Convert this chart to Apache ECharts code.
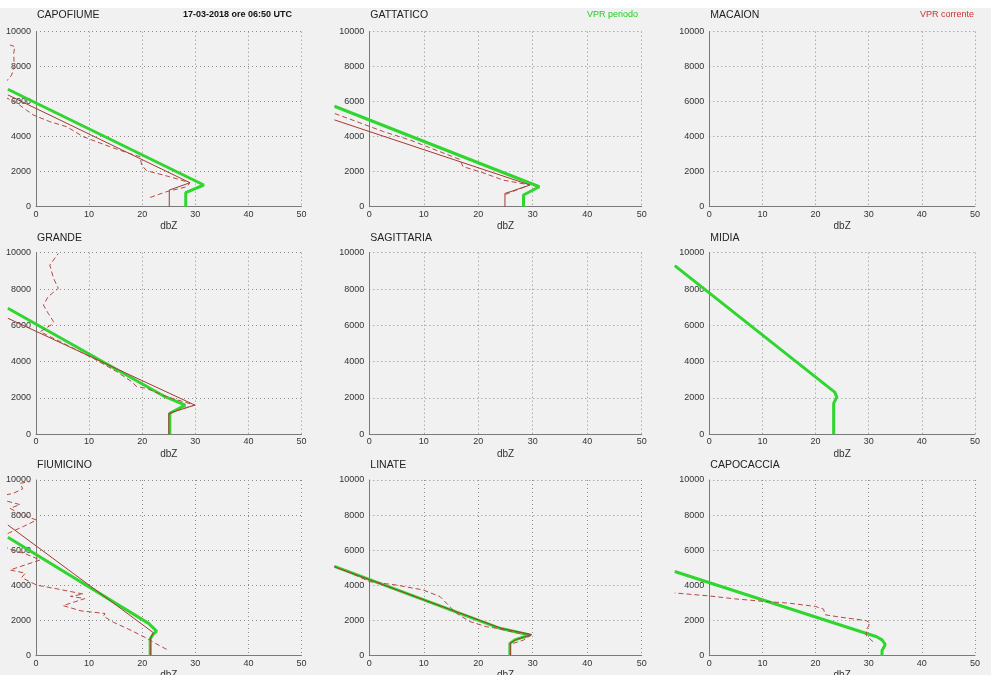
<!DOCTYPE html>
<html>
<head>
<meta charset="utf-8">
<script src="https://cdn.jsdelivr.net/npm/echarts@6/dist/echarts.min.js"></script>
<style>
  html, body { margin: 0; padding: 0; background: #f1f1f1; }
  #chart { width: 991px; height: 675px; }
</style>
</head>
<body>
<div id="chart"></div>
<script>
// Radar sites, in panel order (3 x 3)
const stations = ['CAPOFIUME', 'GATTATICO', 'MACAION', 'GRANDE', 'SAGITTARIA', 'MIDIA', 'FIUMICINO', 'LINATE', 'CAPOCACCIA'];

// Axis ranges and ticks
const dbzTicks = [0, 10, 20, 30, 40, 50];
const heightTicks = [0, 2000, 4000, 6000, 8000, 10000];

const headerDate = '17-03-2018 ore 06:50 UTC';
const legendPeriodo = 'VPR periodo';
const legendCorrente = 'VPR corrente';

// Profiles as [dBZ, height m]; "periodo" = period VPR, "fit" = fitted current VPR, "corrente" = current VPR
const capofiumePeriodo = [[28.2, 0], [28.2, 800], [31.6, 1240], [-5.3, 6710]];
const capofiumeFit = [[25.1, 0], [25.1, 950], [29.0, 1370], [-5.3, 6390]];
const capofiumeCorrente = [[21.5, 530], [24.6, 860], [28.4, 1140], [29.0, 1370], [25.2, 1710], [20.8, 2060], [19.9, 2380], [19.6, 2860], [17.5, 3050], [13.9, 3430], [8.9, 4000], [5.8, 4570], [2.6, 4860], [-0.5, 5240], [-1.8, 5520], [-3.5, 5900], [-8.0, 6600], [-5.2, 7280], [-4.6, 7520], [-4.1, 8000], [-4.2, 8760], [-4.0, 9150], [-4.9, 9240]];

const gattaticoPeriodo = [[28.3, 0], [28.3, 670], [31.2, 1140], [-6.4, 5740]];
const gattaticoFit = [[24.9, 0], [24.9, 760], [26.0, 870], [29.5, 1240], [-6.4, 4960]];
const gattaticoCorrente = [[25.0, 700], [27.0, 950], [29.5, 1240], [24.6, 1520], [20.3, 2000], [17.2, 2290], [16.6, 2700], [13.0, 3140], [7.5, 3810], [2.6, 4290], [-2.3, 4860], [-6.4, 5330]];

const grandePeriodo = [[25.2, 0], [25.2, 1160], [28.1, 1610], [24.3, 2070], [-5.3, 6940]];
const grandeFit = [[25.0, 0], [25.0, 1150], [29.9, 1610], [-5.3, 6390]];
const grandeCorrente = [[25.1, 1100], [25.9, 1250], [29.9, 1610], [24.6, 2070], [20.8, 2530], [19.0, 2620], [18.0, 2900], [15.2, 3450], [10.8, 4180], [5.8, 4920], [0.8, 5650], [3.0, 6050], [3.3, 6200], [2.3, 6660], [1.4, 7120], [2.3, 7580], [4.2, 8040], [3.3, 8590], [2.6, 9320], [4.2, 9960]];

const midiaPeriodo = [[23.4, 0], [23.4, 1700], [24.0, 2050], [23.6, 2320], [22.7, 2530], [-6.5, 9290]];

const fiumicinoPeriodo = [[21.5, 0], [21.5, 950], [22.0, 1200], [22.7, 1400], [21.2, 1840], [-5.3, 6740]];
const fiumicinoFit = [[21.6, 0], [21.6, 1000], [22.1, 1310], [-5.3, 7440]];
const fiumicinoCorrente = [[24.6, 360], [22.5, 700], [20.5, 1050], [17.5, 1500], [14.6, 1900], [12.7, 2250], [13.0, 2400], [8.5, 2550], [5.1, 2850], [9.2, 3250], [6.5, 3380], [8.9, 3510], [4.0, 3800], [0.1, 4020], [-2.7, 4450], [-2.0, 4700], [-4.9, 4880], [0.8, 5450], [-2.0, 5800], [-4.9, 6050], [-8.0, 6600], [-5.0, 7000], [-2.4, 7350], [0.1, 7720], [-2.5, 8000], [-4.9, 8390], [-3.0, 8600], [-8.0, 9000], [-4.3, 9240], [-2.5, 9500], [-3.0, 9810], [-1.1, 9910]];

const linatePeriodo = [[25.8, 0], [25.8, 700], [26.7, 900], [29.5, 1180], [24.0, 1560], [-6.4, 5080]];
const linateFit = [[25.9, 0], [25.9, 720], [27.0, 920], [29.8, 1200], [24.2, 1560], [-6.4, 5060]];
const linateCorrente = [[26.4, 700], [28.3, 890], [29.8, 1200], [27.0, 1300], [23.4, 1560], [21.5, 1650], [18.5, 1940], [16.0, 2410], [14.8, 2790], [13.0, 3360], [9.9, 3740], [5.0, 4020], [0.1, 4210], [-3.0, 4650], [-6.4, 5080]];

const capocacciaPeriodo = [[32.5, 0], [32.5, 300], [32.8, 450], [33.1, 650], [32.5, 900], [31.5, 1080], [-6.5, 4790]];
const capocacciaCorrente = [[30.8, 800], [29.5, 1150], [29.6, 1500], [30.3, 1850], [29.5, 2000], [24.5, 2200], [21.8, 2330], [21.5, 2650], [20.0, 2800], [15.0, 2990], [10.0, 3100], [5.0, 3230], [0.0, 3400], [-6.5, 3570]];

const profiles = {
  CAPOFIUME: { periodo: capofiumePeriodo, fit: capofiumeFit, corrente: capofiumeCorrente },
  GATTATICO: { periodo: gattaticoPeriodo, fit: gattaticoFit, corrente: gattaticoCorrente },
  MACAION: {},
  GRANDE: { periodo: grandePeriodo, fit: grandeFit, corrente: grandeCorrente },
  SAGITTARIA: {},
  MIDIA: { periodo: midiaPeriodo },
  FIUMICINO: { periodo: fiumicinoPeriodo, fit: fiumicinoFit, corrente: fiumicinoCorrente },
  LINATE: { periodo: linatePeriodo, fit: linateFit, corrente: linateCorrente },
  CAPOCACCIA: { periodo: capocacciaPeriodo, corrente: capocacciaCorrente }
};

// Panel layout (pixels): left clip edge, x of 0 dBZ, x of 50 dBZ; plot top/bottom and title line per row
const COLS = [
  { clip: 8, x0: 36, x50: 301.5 },
  { clip: 335, x0: 369.3, x50: 641.7 },
  { clip: 675, x0: 709.3, x50: 975 }
];
const ROWS = [
  { top: 31.7, bottom: 206.7, title: 15 },
  { top: 252.7, bottom: 434.3, title: 238 },
  { top: 480, bottom: 655.7, title: 465 }
];

const FONT = '"Liberation Sans", Arial, Helvetica, sans-serif';
const GREEN = '#2fd62f';
const FIT_RED = '#a13a36';
const CUR_RED = '#b24a46';

const xMin = dbzTicks[0], xMax = dbzTicks[dbzTicks.length - 1];
const xStep = dbzTicks[1] - dbzTicks[0];
const yMin = heightTicks[0], yMax = heightTicks[heightTicks.length - 1];
const yStep = heightTicks[1] - heightTicks[0];

const grids = [], xAxes = [], yAxes = [], series = [];
const graphics = [
  { type: 'rect', shape: { x: 0, y: 0, width: 991, height: 8 }, style: { fill: '#ffffff' }, z: -1 }
];

const dotted = { color: '#8c8c8c', width: 1, type: [1, 3] };
const plainNumber = v => String(v);

stations.forEach((name, i) => {
  const c = COLS[i % 3], r = ROWS[Math.floor(i / 3)];
  const w = c.x50 - c.x0, h = r.bottom - r.top;
  const frameIdx = grids.length;

  // framed grid with visible axes
  grids.push({ left: c.x0, top: r.top, width: w, height: h, outerBoundsMode: 'none', containLabel: false });
  xAxes.push({
    gridIndex: frameIdx, type: 'value', min: xMin, max: xMax, interval: xStep,
    name: 'dbZ', nameLocation: 'middle', nameGap: 15,
    nameTextStyle: { fontFamily: FONT, fontSize: 10, color: '#333' },
    axisLine: { show: true, onZero: false, lineStyle: { color: '#7a7a7a', width: 1 } },
    axisTick: { show: false },
    axisLabel: { fontFamily: FONT, fontSize: 9, color: '#333', margin: 3, formatter: plainNumber },
    splitLine: { show: true, lineStyle: dotted }
  });
  yAxes.push({
    gridIndex: frameIdx, type: 'value', min: yMin, max: yMax, interval: yStep,
    axisLine: { show: true, onZero: false, lineStyle: { color: '#7a7a7a', width: 1 } },
    axisTick: { show: false },
    axisLabel: { fontFamily: FONT, fontSize: 9, color: '#333', margin: 5, formatter: plainNumber },
    splitLine: { show: true, lineStyle: dotted }
  });

  // data grid: same scale, extended left to the panel edge so profiles run past the axis
  const dataIdx = grids.length;
  const pxPerUnit = w / (xMax - xMin);
  grids.push({ left: c.clip, top: r.top, width: c.x50 - c.clip, height: h, outerBoundsMode: 'none', containLabel: false });
  xAxes.push({ gridIndex: dataIdx, type: 'value', min: xMin - (c.x0 - c.clip) / pxPerUnit, max: xMax, show: false, splitLine: { show: false } });
  yAxes.push({ gridIndex: dataIdx, type: 'value', min: yMin, max: yMax, show: false, splitLine: { show: false } });

  const p = profiles[name];
  const base = { type: 'line', xAxisIndex: dataIdx, yAxisIndex: dataIdx, showSymbol: false, symbol: 'none', silent: true, animation: false, clip: true };
  if (p.periodo) series.push(Object.assign({}, base, { name: name + ' periodo', data: p.periodo, lineStyle: { color: GREEN, width: 3 }, z: 3 }));
  if (p.fit) series.push(Object.assign({}, base, { name: name + ' fit', data: p.fit, lineStyle: { color: FIT_RED, width: 1 }, z: 4 }));
  if (p.corrente) series.push(Object.assign({}, base, { name: name + ' corrente', data: p.corrente, lineStyle: { color: CUR_RED, width: 1, type: [5, 3] }, z: 5 }));

  graphics.push({
    type: 'text', x: c.x0 + 1, y: r.title,
    style: { text: name, font: '10.5px ' + FONT, fill: '#222', textAlign: 'left', textVerticalAlign: 'middle' }
  });
});

graphics.push(
  { type: 'text', x: 292, y: 15, style: { text: headerDate, font: 'bold 9px ' + FONT, fill: '#111', textAlign: 'right', textVerticalAlign: 'middle' } },
  { type: 'text', x: 638, y: 15, style: { text: legendPeriodo, font: '9px ' + FONT, fill: '#22cc22', textAlign: 'right', textVerticalAlign: 'middle' } },
  { type: 'text', x: 974, y: 15, style: { text: legendCorrente, font: '9px ' + FONT, fill: '#cc3333', textAlign: 'right', textVerticalAlign: 'middle' } }
);

const chart = echarts.init(document.getElementById('chart'), null, { renderer: 'canvas' });
chart.setOption({
  backgroundColor: '#f1f1f1',
  animation: false,
  grid: grids,
  xAxis: xAxes,
  yAxis: yAxes,
  series: series,
  graphic: graphics
});
</script>
</body>
</html>
